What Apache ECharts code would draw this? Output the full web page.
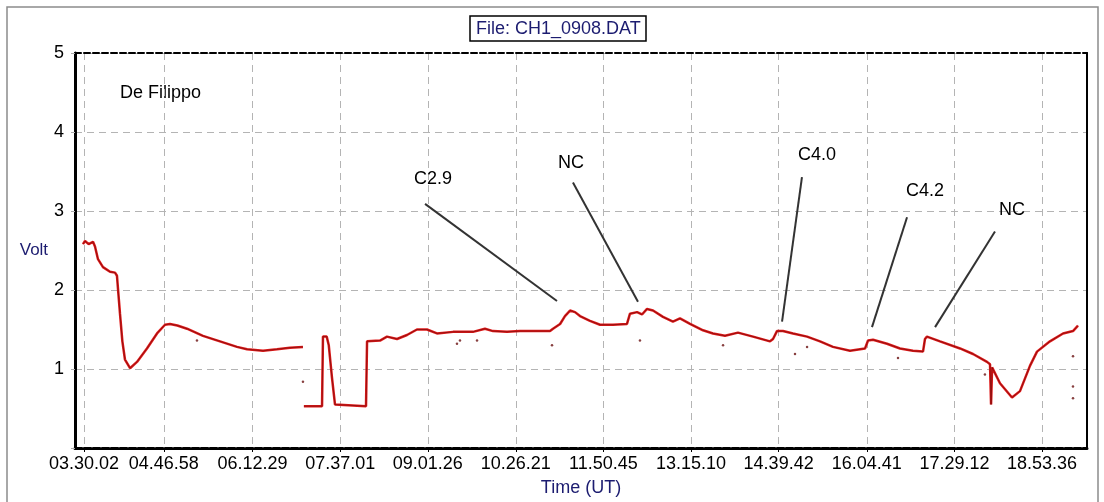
<!DOCTYPE html>
<html>
<head>
<meta charset="utf-8">
<script src="https://cdn.jsdelivr.net/npm/echarts@6/dist/echarts.min.js"></script>
<style>
  html, body { margin: 0; padding: 0; background: #fff; }
  #chart { width: 1104px; height: 502px; }
</style>
</head>
<body>
<div id="chart"></div>
<script>
  // time in minutes after 00:00 UT, value in volt
  const traceTime = [209.0, 211.0, 214.5, 218.7, 220.6, 223.5, 228.3, 235.1, 239.9, 241.8, 242.8, 244.7, 247.0, 249.5, 254.4,
    261.1, 270.7, 280.4, 288.1, 292.9, 300.0, 309.3, 324.7, 341.1, 357.5, 367.2, 382.6, 396.1, 408.6, 421.1,
    421.6,
    422.0, 439.5, 440.4, 444.0, 446.0, 449.0, 452.0, 453.0, 481.9, 482.9,
    495.4, 502.1, 511.8, 521.4, 531.0, 540.7, 550.3, 565.8, 585.0, 596.6, 604.3, 617.8, 630.4, 642.9, 659.3,
    662.2, 669.0, 673.7, 678.6, 683.4, 688.2, 697.8, 707.5, 720.0, 733.5, 736.4, 743.2, 748.0, 752.8, 758.6,
    768.2, 777.8, 784.6, 794.3, 806.8, 816.4, 828.0, 840.5, 855.0, 871.4, 874.3, 878.1, 883.9, 893.6, 907.1,
    919.6, 932.1, 948.5, 963.0, 965.9, 970.7, 984.2, 996.7, 1009.2, 1018.9, 1020.8, 1022.7, 1035.3, 1054.6,
    1067.1, 1080.6, 1083.5, 1084.5, 1085.5, 1086.4, 1093.1, 1104.7, 1112.4, 1122.0, 1128.8, 1141.3, 1153.9,
    1163.5, 1168.3];
  const traceVolt = [2.58, 2.62, 2.58, 2.61, 2.55, 2.39, 2.29, 2.23, 2.22, 2.18, 2.01, 1.70, 1.35, 1.12, 1.01,
    1.09, 1.26, 1.45, 1.56, 1.57, 1.55, 1.51, 1.42, 1.35, 1.28, 1.25, 1.23, 1.25, 1.27, 1.28,
    null,
    0.53, 0.53, 1.41, 1.41, 1.30, 0.90, 0.55, 0.53, 0.53, 1.35,
    1.36, 1.41, 1.38, 1.43, 1.50, 1.50, 1.45, 1.47, 1.47, 1.51, 1.48, 1.47, 1.48, 1.48, 1.48,
    1.51, 1.57, 1.67, 1.74, 1.72, 1.67, 1.61, 1.56, 1.56, 1.57, 1.70, 1.72, 1.69, 1.76, 1.74,
    1.66, 1.60, 1.64, 1.57, 1.49, 1.45, 1.42, 1.46, 1.41, 1.35, 1.38, 1.48, 1.48, 1.45, 1.41,
    1.35, 1.28, 1.23, 1.26, 1.36, 1.37, 1.32, 1.26, 1.23, 1.22, 1.38, 1.41, 1.35, 1.26,
    1.19, 1.09, 1.06, 0.55, 1.02, 1.01, 0.82, 0.64, 0.72, 1.04, 1.22, 1.35, 1.45,
    1.48, 1.55];

  const strayTime = [318.9, 421.1, 569.6, 572.5, 588.9, 661.2, 746.0, 826.1, 895.5, 907.1, 994.8, 1078.6, 1163.5, 1163.5, 1163.5];
  const strayVolt = [1.36, 0.84, 1.32, 1.36, 1.36, 1.30, 1.36, 1.30, 1.19, 1.28, 1.14, 0.93, 1.16, 0.78, 0.63];

  const tickLabels = ['03.30.02', '04.46.58', '06.12.29', '07.37.01', '09.01.26', '10.26.21',
    '11.50.45', '13.15.10', '14.39.42', '16.04.41', '17.29.12', '18.53.36'];

  const noteNames = ['C2.9', 'NC', 'C4.0', 'C4.2', 'NC'];
  const noteTextTime = [546.5, 679.5, 916.7, 1020.8, 1104.7];
  const noteTextVolt = [3.40, 3.61, 3.71, 3.25, 3.01];
  const noteFromTime = [538.8, 681.4, 902.2, 1003.5, 1088.3];
  const noteFromVolt = [3.09, 3.36, 3.43, 2.92, 2.74];
  const noteToTime = [666.0, 744.1, 883.0, 969.7, 1030.5];
  const noteToVolt = [1.86, 1.85, 1.60, 1.53, 1.53];

  const font = 'Liberation Sans, Arial, sans-serif';

  function toMinutes(s) {
    let p = s.split('.').map(Number);
    return p[0] * 60 + p[1] + p[2] / 60;
  }
  const tickValues = tickLabels.map(toMinutes);
  function labelFor(v) {
    let best = 0;
    for (let i = 0; i < tickValues.length; i++) {
      if (Math.abs(tickValues[i] - v) < Math.abs(tickValues[best] - v)) best = i;
    }
    return tickLabels[best];
  }

  const traceData = traceTime.map((t, i) => [t, traceVolt[i]]);
  const strayData = strayTime.map((t, i) => [t, strayVolt[i]]);
  const noteText = noteNames.map((n, i) => ({ name: n, value: [noteTextTime[i], noteTextVolt[i]] }));
  const noteLines = noteNames.map((n, i) => [
    { coord: [noteFromTime[i], noteFromVolt[i]] },
    { coord: [noteToTime[i], noteToVolt[i]] }
  ]);

  const xMin = 201.33, xMax = 1177;

  const myChart = echarts.init(document.getElementById('chart'));
  const option = {
    animation: false,
    backgroundColor: '#fff',
    title: {
      text: 'File: CH1_0908.DAT',
      left: 470,
      top: 16,
      padding: [4, 6, 3, 6],
      borderColor: '#000',
      borderWidth: 1.5,
      textStyle: { fontFamily: font, fontSize: 18, fontWeight: 'normal', color: '#1c1c70' }
    },
    graphic: [
      {
        type: 'rect', silent: true, z: -10,
        shape: { x: 7, y: 7, width: 1091, height: 500 },
        style: { fill: 'none', stroke: '#8c8c8c', lineWidth: 1.5 }
      },
      {
        type: 'text', left: 120, top: 84,
        style: { text: 'De Filippo', fontFamily: font, fontSize: 18, fill: '#000' }
      }
    ],
    grid: { left: 75, right: 17, top: 53, bottom: 52 },
    xAxis: [
      {
        type: 'value',
        min: xMin,
        max: xMax,
        name: 'Time (UT)',
        nameLocation: 'middle',
        nameGap: 31,
        nameTextStyle: { fontFamily: font, fontSize: 18, color: '#1c1c70' },
        axisLine: { show: true, onZero: false, lineStyle: { color: '#000', width: 3, type: [7, 2] } },
        axisTick: { show: true, customValues: tickValues, length: 4, lineStyle: { color: '#000' } },
        axisLabel: {
          customValues: tickValues,
          formatter: labelFor,
          hideOverlap: false,
          margin: 7,
          fontFamily: font, fontSize: 18, color: '#000'
        },
        splitLine: { show: true, lineStyle: { color: '#b4b4b4', type: [7, 5], width: 1 } }
      },
      {
        type: 'value',
        position: 'top',
        min: xMin,
        max: xMax,
        axisLine: { show: true, onZero: false, lineStyle: { color: '#000', width: 2, type: [6, 3] } },
        axisTick: { show: false },
        axisLabel: { show: false },
        splitLine: { show: false }
      }
    ],
    yAxis: [
      {
        type: 'value',
        min: 0,
        max: 5,
        interval: 1,
        name: 'Volt',
        nameLocation: 'middle',
        nameRotate: 0,
        nameGap: 26,
        nameTextStyle: { fontFamily: font, fontSize: 17, color: '#1c1c70' },
        axisLine: { show: true, onZero: false, lineStyle: { color: '#000', width: 3 } },
        axisTick: { show: true, length: 6, lineStyle: { color: '#aaa', type: 'dashed' } },
        axisLabel: {
          formatter: v => (v === 0 ? '' : String(v)),
          margin: 11,
          fontFamily: font, fontSize: 18, color: '#000'
        },
        splitLine: { show: true, lineStyle: { color: '#b4b4b4', type: [7, 5], width: 1 } }
      },
      {
        type: 'value',
        position: 'right',
        min: 0,
        max: 5,
        axisLine: { show: true, onZero: false, lineStyle: { color: '#000', width: 2 } },
        axisTick: { show: false },
        axisLabel: { show: false },
        splitLine: { show: false }
      }
    ],
    series: [
      {
        type: 'line',
        data: traceData,
        showSymbol: false,
        connectNulls: false,
        lineStyle: { color: '#e01a1a', width: 2.5 },
        z: 3
      },
      {
        type: 'line',
        data: traceData,
        showSymbol: false,
        connectNulls: false,
        lineStyle: { color: '#5a0808', width: 1, opacity: 0.55 },
        z: 4
      },
      {
        type: 'scatter',
        data: strayData,
        symbolSize: 2.5,
        itemStyle: { color: '#6a1010' },
        z: 4
      },
      {
        type: 'scatter',
        data: noteText,
        symbolSize: 0,
        itemStyle: { opacity: 1 },
        label: {
          show: true,
          position: 'inside',
          formatter: p => p.name,
          fontFamily: font, fontSize: 18, color: '#000'
        },
        markLine: {
          silent: true,
          symbol: ['none', 'none'],
          label: { show: false },
          lineStyle: { color: '#333', width: 2, type: 'solid', opacity: 1 },
          data: noteLines
        },
        z: 5
      }
    ]
  };
  option && myChart.setOption(option);
</script>
</body>
</html>
